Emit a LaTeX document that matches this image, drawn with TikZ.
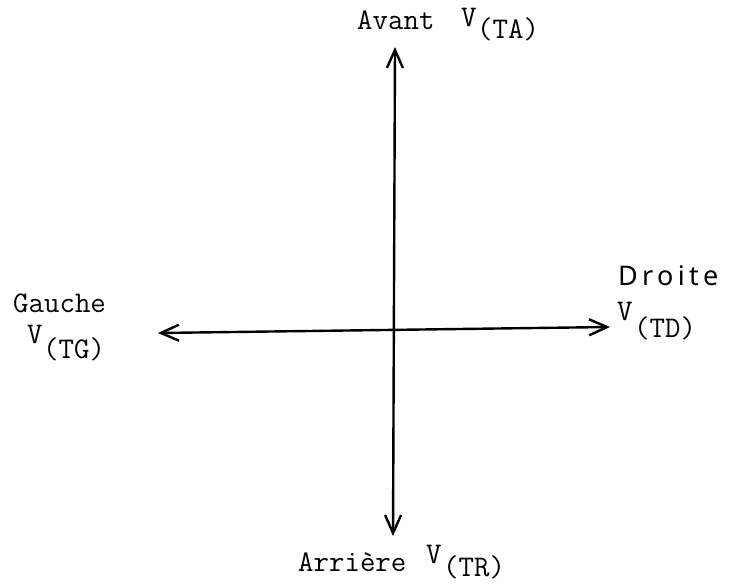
\documentclass[tikz,border=0pt]{standalone}
\usepackage{fontspec}
\newfontfamily\handfont[LetterSpace=16]{Noto Sans}
\usetikzlibrary{arrows.meta}
\begin{document}
\begin{tikzpicture}[x=1pt,y=1pt,
  axis/.style={line width=2.4pt,{Straight Barb[length=18pt,width=16pt,line width=2.4pt]}-{Straight Barb[length=18pt,width=16pt,line width=2.4pt]}},
  lbl/.style={inner sep=0pt,anchor=base west,font=\fontsize{30}{34}\selectfont\ttfamily},
  hand/.style={inner sep=0pt,anchor=base west,font=\fontsize{27}{30}\selectfont\handfont}]
\useasboundingbox (0,0) rectangle (735,-586);
\coordinate (top) at (395,-47);
\coordinate (bot) at (393,-536);
\coordinate (lft) at (158,-333);
\coordinate (rgt) at (610,-327);
\draw[axis] (bot) -- (top);
\draw[axis] (lft) -- (rgt);
% top label
\node[lbl] (avant) at (357,-30) {Avant};
\node[lbl] (va) at (461,-27) {V};
\node[lbl] (ta) at (477,-39) {(TA)};
% left label
\node[lbl] (gauche) at (13,-312) {Gauche};
\node[lbl] (vg) at (27,-343) {V};
\node[lbl] (tg) at (43,-358) {(TG)};
% right label
\node[hand] (droite) at (618,-285) {Droite};
\node[lbl] (vd) at (617,-320) {V};
\node[lbl] (td) at (634,-337) {(TD)};
% bottom label
\node[lbl] (arriere) at (298,-571) {Arrière};
\node[lbl] (vr) at (426,-563) {V};
\node[lbl] (tr) at (443,-576) {(TR)};
\end{tikzpicture}
\end{document}
